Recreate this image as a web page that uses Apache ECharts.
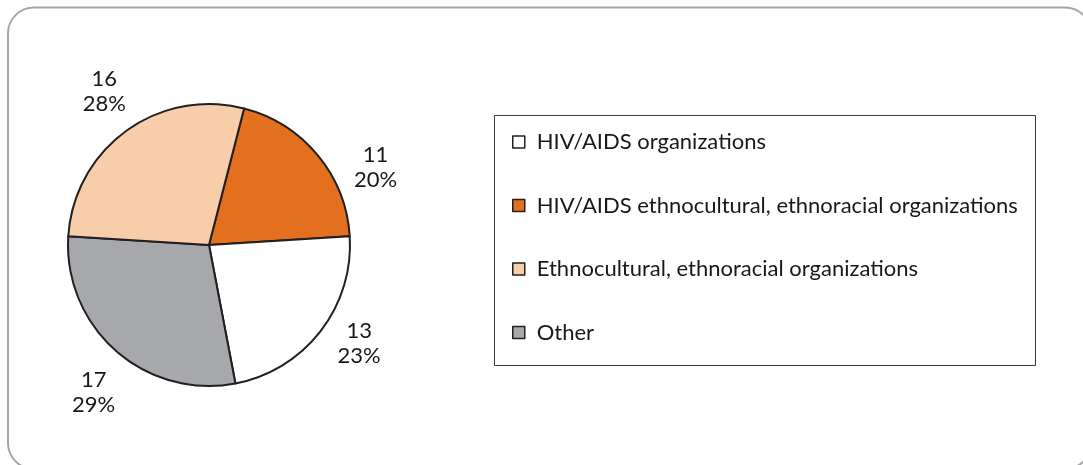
<!DOCTYPE html>
<html><head><meta charset="utf-8">
<script src="https://cdn.jsdelivr.net/npm/echarts@6/dist/echarts.min.js"></script>
<style>html,body{margin:0;padding:0;background:#fff}#c{width:1083px;height:465px}</style>
</head><body><div id="c"></div>
<script>
// Data (in drawing order, clockwise)
const categories = ['HIV/AIDS ethnocultural, ethnoracial organizations','HIV/AIDS organizations','Other','Ethnocultural, ethnoracial organizations'];
const counts = [11, 13, 17, 16];
const percents = [20, 23, 29, 28];
const legendOrder = ['HIV/AIDS organizations','HIV/AIDS ethnocultural, ethnoracial organizations','Ethnocultural, ethnoracial organizations','Other'];

// Styles
const colors = ['#E2701F', '#FFFFFF', '#A7A8AB', '#F7CDAA'];
const labelNudge = [[24, 40], [4, -15], [7, 9], [4, -4]];

const FONT = 'Lato';
const chart = echarts.init(document.getElementById('c'), null, {renderer:'canvas'});
chart.setOption({
  animation: false,
  textStyle: {fontFamily: FONT},
  graphic: [
    {type:'rect', shape:{x:8, y:7.5, width:1083, height:461.5, r:26}, style:{fill:'none', stroke:'#A6A6A6', lineWidth:2}, z:-1},
    {type:'rect', shape:{x:494.5, y:115.5, width:541, height:250}, style:{fill:'none', stroke:'#3a3a3a', lineWidth:1}, z:-1}
  ],
  legend: {
    orient: 'vertical',
    left: 494, top: 115,
    padding: [16, 18],
    data: legendOrder,
    icon: 'rect',
    itemWidth: 12, itemHeight: 12,
    itemGap: 41.5,
    selectedMode: false,
    itemStyle: {borderColor:'#231f20', borderWidth:1.5},
    textStyle: {fontFamily: FONT, fontSize: 22, color:'#1a1718', lineHeight: 22, padding:[0,0,0,7]}
  },
  series: [{
    type: 'pie',
    center: [209, 245],
    radius: 141,
    startAngle: 75.6,
    clockwise: true,
    data: categories.map((n,i)=>({name:n, value:percents[i], itemStyle:{color:colors[i]}})),
    itemStyle: {borderColor:'#231f20', borderWidth:2},
    label: {
      show: true, position: 'outside',
      formatter: p => counts[p.dataIndex] + '\n' + p.value + '%',
      fontFamily: FONT, fontSize: 22, color:'#1a1718', lineHeight: 25, align:'center'
    },
    labelLine: {show: true, length: 44, length2: 0, lineStyle:{opacity:0, width:0}},
    labelLayout: p => ({x: p.labelLinePoints[1][0] + labelNudge[p.dataIndex][0], y: p.labelLinePoints[1][1] + labelNudge[p.dataIndex][1], align:'center', verticalAlign:'middle'}),
    emphasis: {disabled: true}
  }]
});
</script></body></html>
